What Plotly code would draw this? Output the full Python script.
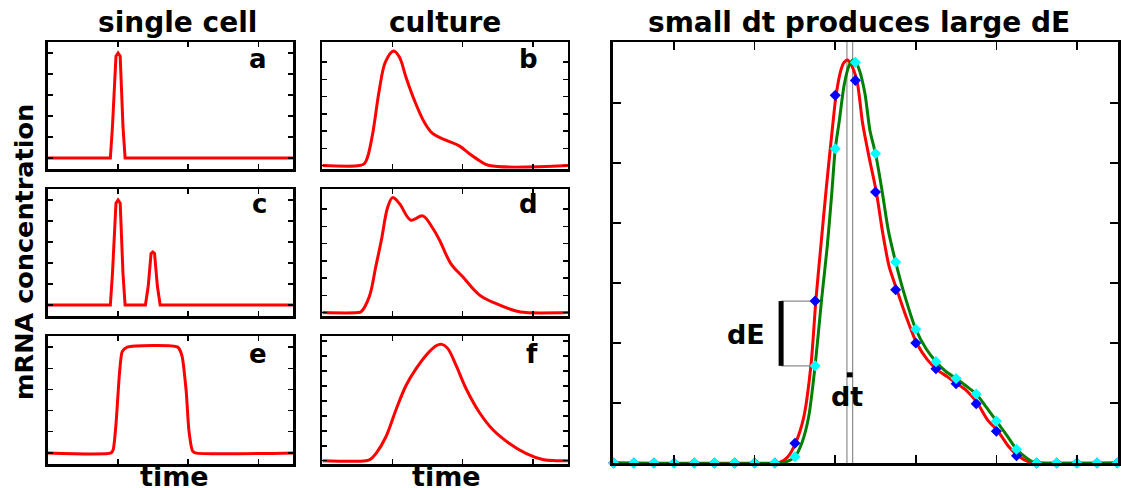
import plotly.graph_objects as go

# ---------------- data ----------------
# single cell panels (x: time, y: normalised mRNA)
a_t = [0, 0.89, 0.92, 0.97, 1.0, 1.03, 1.07, 1.1, 3.5]
a_v = [0, 0, 0.3, 0.97, 1.0, 0.97, 0.3, 0, 0]

c_t = [0, 0.89, 0.92, 0.97, 1.0, 1.03, 1.07, 1.1, 1.39, 1.43, 1.47, 1.495, 1.52, 1.56, 1.6, 3.5]
c_v = [0, 0, 0.3, 0.97, 1.0, 0.97, 0.3, 0, 0, 0.18, 0.49, 0.505, 0.49, 0.18, 0, 0]

e_t = [0, 0.9, 0.93, 0.97, 1.02, 1.06, 1.13, 1.85, 1.91, 1.97, 2.01, 2.06, 2.1, 3.5]
e_v = [0, 0, 0.03, 0.27, 0.75, 0.96, 1.0, 1.0, 0.92, 0.59, 0.21, 0.02, 0, 0]

# culture panels
b_t = [0, 0.53, 0.6, 0.645, 0.717, 0.81, 0.897, 1.016, 1.097, 1.19, 1.31, 1.45, 1.57, 1.76, 1.95, 2.09, 2.24, 2.38, 3.5]
b_v = [0, 0, 0.12, 0.51, 1.86, 4.36, 6.0, 6.64, 6.29, 5.13, 3.79, 2.53, 1.86, 1.47, 1.14, 0.7, 0.28, 0, 0]

d_t = [0, 0.5, 0.55, 0.667, 0.76, 0.84, 0.93, 1.0, 1.1, 1.26, 1.43, 1.57, 1.67, 1.83, 2.0, 2.24, 2.47, 2.76, 2.9, 3.5]
d_v = [0, 0, 0.05, 0.91, 2.65, 4.19, 6.1, 6.66, 6.3, 5.35, 5.6, 4.9, 4.19, 2.84, 2.07, 1.01, 0.53, 0.09, 0, 0]

f_t = [0, 0.62, 0.69, 0.765, 0.907, 1.05, 1.19, 1.335, 1.5, 1.62, 1.705, 1.785, 1.905, 2.05, 2.24, 2.43, 2.66, 2.9, 3.14, 3.33, 3.5]
f_v = [0, 0, 0.12, 0.49, 1.62, 3.43, 5.02, 6.16, 7.18, 7.7, 7.79, 7.52, 6.38, 4.8, 3.21, 2.07, 1.17, 0.49, 0.08, 0, 0]

# big panel: two expression curves (red = earlier, green = later by dt)
red_t = [0.0, 2.0, 2.06, 2.16, 2.26, 2.36, 2.45, 2.51, 2.57, 2.64, 2.72, 2.76, 2.82, 2.86, 2.90,
         2.94, 3.02, 3.09, 3.17, 3.26, 3.34, 3.42, 3.515, 3.63, 3.76, 3.895, 4.02, 4.14, 4.255,
         4.37, 4.515, 4.64, 4.77, 4.905, 5.02, 5.15, 5.24, 6.25]
red_v = [0, 0, 0.01, 0.1, 0.34, 0.77, 1.65, 2.72, 3.6, 4.6, 5.65, 6.13, 6.55, 6.68, 6.72,
         6.66, 6.37, 5.66, 5.1, 4.52, 3.83, 3.27, 2.89, 2.44, 2.0, 1.72, 1.55, 1.44, 1.33,
         1.22, 1.0, 0.72, 0.53, 0.27, 0.12, 0.02, 0, 0]

green_t = [0.0, 2.07, 2.14, 2.25, 2.34, 2.42, 2.5, 2.58, 2.65, 2.71, 2.75, 2.80, 2.86, 2.92, 2.97,
           3.0, 3.05, 3.12, 3.18, 3.25, 3.33, 3.41, 3.5, 3.6, 3.75, 3.88, 4.0, 4.12, 4.25, 4.38,
           4.5, 4.62, 4.75, 4.88, 5.0, 5.12, 5.22, 5.3, 6.25]
green_v = [0, 0, 0.02, 0.105, 0.35, 0.77, 1.62, 2.72, 3.6, 4.55, 5.24, 5.7, 6.3, 6.62, 6.72,
           6.69, 6.55, 6.15, 5.55, 5.16, 4.55, 3.87, 3.35, 2.85, 2.23, 1.9, 1.69, 1.53, 1.41, 1.28,
           1.15, 0.94, 0.70, 0.46, 0.23, 0.09, 0.01, 0, 0]

# sampled measurements (diamonds)
sample_t = [0, 0.25, 0.5, 0.75, 1.0, 1.25, 1.5, 1.75, 2.0, 2.25, 2.5, 2.75, 3.0,
            3.25, 3.5, 3.75, 4.0, 4.25, 4.5, 4.75, 5.0, 5.25, 5.5, 5.75, 6.0, 6.25]
blue_v = [0, 0, 0, 0, 0, 0, 0, 0, 0, 0.33, 2.70, 6.13, 6.38,
          4.52, 2.89, 2.0, 1.57, 1.32, 0.99, 0.53, 0.12, 0, 0, 0, 0, 0]
cyan_v = [0, 0, 0, 0, 0, 0, 0, 0, 0, 0.105, 1.62, 5.24, 6.68,
          5.16, 3.35, 2.23, 1.69, 1.41, 1.15, 0.70, 0.23, 0, 0, 0, 0, 0]

peak_red_t = 2.895
peak_green_t = 2.966
dE_bar_t = 2.078
dE_sample_t = 2.5
dE_top = 2.70
dE_bottom = 1.62
dt_mark_v = 1.47

small_xticks = [1, 2, 3]
cell_yticks = [0, 0.2, 0.4, 0.6, 0.8, 1.0]
cult_yticks_bd = [0, 1, 2, 3, 4, 5, 6]
cult_yticks_f = [0, 1, 2, 3, 4, 5, 6, 7, 8]
big_xticks = [0.75, 1.75, 2.75, 3.75, 4.75, 5.75]
big_yticks = [1, 2, 3, 4, 5, 6]

# ---------------- layout helpers ----------------
W, H = 1121, 488
def px(x):
    return x / W
def py(y):
    return 1 - y / H

FONT = "DejaVu Sans"
fig = go.Figure()
layout = dict(width=W, height=H, margin=dict(l=0, r=0, t=0, b=0),
              paper_bgcolor="white", plot_bgcolor="white", showlegend=False)

def axnames(i):
    return ("x", "y") if i == 1 else (f"x{i}", f"y{i}")

def axkey(i):
    return ("xaxis", "yaxis") if i == 1 else (f"xaxis{i}", f"yaxis{i}")

common = dict(showline=True, mirror="ticks", linecolor="black", linewidth=2.5,
              ticks="inside", tickcolor="black", tickwidth=1.5,
              showticklabels=False, showgrid=False, zeroline=False, fixedrange=True)

left_x = (48, 294)
mid_x = (323, 569)
rows = [(42, 169), (189, 316), (336, 464)]

panels = [
    # idx, t, v, xdom, ydom, yrange, yticks, shape
    (1, a_t, a_v, left_x, rows[0], [-0.105, 1.105], cell_yticks, "linear"),
    (2, b_t, b_v, mid_x, rows[0], [-0.2, 7.16], cult_yticks_bd, "spline"),
    (3, c_t, c_v, left_x, rows[1], [-0.105, 1.105], cell_yticks, "linear"),
    (4, d_t, d_v, mid_x, rows[1], [-0.2, 7.16], cult_yticks_bd, "spline"),
    (5, e_t, e_v, left_x, rows[2], [-0.105, 1.105], cell_yticks, "spline"),
    (6, f_t, f_v, mid_x, rows[2], [-0.22, 8.35], cult_yticks_f, "spline"),
]

for idx, t, v, xd, yd, yr, ytv, shape in panels:
    xa, ya = axnames(idx)
    xk, yk = axkey(idx)
    layout[xk] = dict(common, domain=[px(xd[0]), px(xd[1])], range=[0, 3.5],
                      tickvals=small_xticks, ticklen=5, anchor=ya)
    layout[yk] = dict(common, domain=[py(yd[1]), py(yd[0])], range=yr,
                      tickvals=ytv, ticklen=5, anchor=xa)
    line = dict(color="#ff0000", width=3, shape=shape)
    if shape == "spline":
        line["smoothing"] = 0.6 if idx == 5 else 1.0
    fig.add_trace(go.Scatter(x=t, y=v, mode="lines", line=line, xaxis=xa, yaxis=ya,
                             hoverinfo="skip"))

# big panel
xa, ya = axnames(7)
xk, yk = axkey(7)
layout[xk] = dict(common, domain=[px(614), px(1120)], range=[-0.01, 6.26],
                  tickvals=big_xticks, ticklen=8, anchor=ya)
layout[yk] = dict(common, domain=[py(463), py(42)], range=[0, 7.02],
                  tickvals=big_yticks, ticklen=8, anchor=xa)

ytop = 7.02
for pt in (peak_red_t, peak_green_t):
    fig.add_trace(go.Scatter(x=[pt, pt], y=[0, ytop], mode="lines",
                             line=dict(color="#8c8c8c", width=1.2), xaxis=xa, yaxis=ya,
                             hoverinfo="skip"))
# dE connectors and bar
for yv in (dE_top, dE_bottom):
    fig.add_trace(go.Scatter(x=[dE_bar_t, dE_sample_t], y=[yv, yv], mode="lines",
                             line=dict(color="#8c8c8c", width=1.2), xaxis=xa, yaxis=ya,
                             hoverinfo="skip"))
fig.add_trace(go.Scatter(x=[dE_bar_t, dE_bar_t], y=[dE_bottom, dE_top], mode="lines",
                         line=dict(color="black", width=5), xaxis=xa, yaxis=ya,
                         hoverinfo="skip"))
# dt mark
fig.add_trace(go.Scatter(x=[peak_red_t, peak_green_t], y=[dt_mark_v, dt_mark_v], mode="lines",
                         line=dict(color="black", width=5), xaxis=xa, yaxis=ya,
                         hoverinfo="skip"))

fig.add_trace(go.Scatter(x=red_t, y=red_v, mode="lines",
                         line=dict(color="#ff0000", width=3, shape="spline", smoothing=0.7),
                         xaxis=xa, yaxis=ya, hoverinfo="skip"))
fig.add_trace(go.Scatter(x=green_t, y=green_v, mode="lines",
                         line=dict(color="#008000", width=3, shape="spline", smoothing=0.7),
                         xaxis=xa, yaxis=ya, hoverinfo="skip"))
fig.add_trace(go.Scatter(x=sample_t, y=blue_v, mode="markers",
                         marker=dict(symbol="diamond", size=8.5, color="#0000ff"),
                         cliponaxis=False, xaxis=xa, yaxis=ya, hoverinfo="skip"))
fig.add_trace(go.Scatter(x=sample_t, y=cyan_v, mode="markers",
                         marker=dict(symbol="diamond", size=8.5, color="#00ffff"),
                         cliponaxis=False, xaxis=xa, yaxis=ya, hoverinfo="skip"))

# ---------------- texts ----------------
def txt(s, x, y, size=28, xanchor="center", angle=0, yanchor="middle", **kw):
    d = dict(text=s, x=px(x), y=py(y), xref="paper", yref="paper", showarrow=False,
             xanchor=xanchor, yanchor=yanchor, textangle=angle, borderpad=0,
             font=dict(family=FONT, size=size, color="black", weight="bold"))
    d.update(kw)
    return d

annotations = [
    txt("single cell", 177.5, 23),
    txt("culture", 446, 23),
    txt("small dt produces large dE", 861, 23),
    txt("time", 174.5, 488, size=27, yanchor="bottom", height=26, valign="top"),
    txt("time", 447.5, 488, size=27, yanchor="bottom", height=26, valign="top"),
    txt("mRNA concentration", 24, 252, size=25.5, angle=-90),
    txt("a", 268, 59, size=26, xanchor="right"),
    txt("b", 540, 59, size=26, xanchor="right"),
    txt("c", 268, 204, size=26, xanchor="right"),
    txt("d", 540, 204, size=26, xanchor="right"),
    txt("e", 268, 354, size=26, xanchor="right"),
    txt("f", 540, 354, size=26, xanchor="right"),
    txt("dE", 767, 334, size=27, xanchor="right"),
    txt("dt", 849, 396, size=27),
]
layout["annotations"] = annotations
fig.update_layout(**layout)
fig.write_html("out.html",
               config={"displayModeBar": False, "staticPlot": True},
               post_script="document.body.style.margin='0px';"
                           "document.body.style.overflow='hidden';")
